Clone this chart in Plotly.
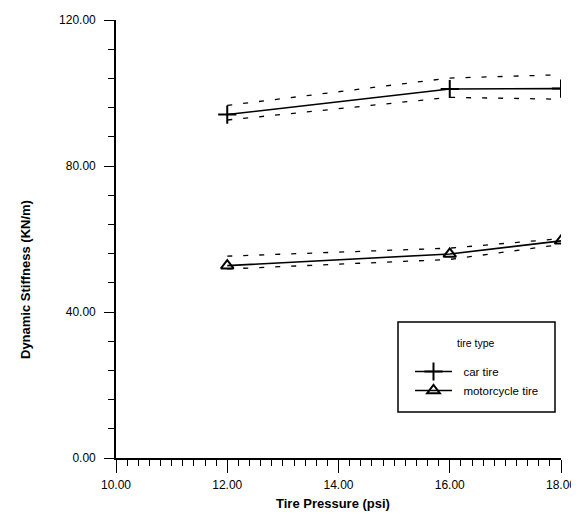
import plotly.graph_objects as go

# ---- data ----
pressure = [12.0, 16.0, 18.0]

car_stiffness = [94.1, 101.1, 101.2]
car_upper = [96.6, 104.1, 105.0]
car_lower = [92.6, 98.8, 98.3]

moto_stiffness = [52.7, 55.9, 59.5]
moto_upper = [55.3, 57.5, 60.1]
moto_lower = [51.8, 54.4, 58.5]

x_ticks = [10, 12, 14, 16, 18]
y_ticks = [0, 40, 80, 120]

FONT = "Liberation Sans, Arial, sans-serif"
OFF = 8  # default page body margin
WIN_W, WIN_H = 579, 519
W, H = WIN_W - OFF, WIN_H - 2 * OFF
# plot area in window pixels
PL, PR, PT, PB = 116, 561, 20, 458
L, T = PL - OFF, PT - OFF
R, B = OFF + W - PR, OFF + H - PB
PW, PH = PR - PL, PB - PT

def px_x(p):
    return (p - PL) / PW

def px_y(p):
    return (PB - p) / PH

fig = go.Figure()

dash_style = dict(color="black", width=1.3, dash="5px,11px")
for band in (car_upper, car_lower, moto_upper, moto_lower):
    fig.add_trace(go.Scatter(x=pressure, y=band, mode="lines", line=dash_style,
                             showlegend=False, hoverinfo="skip"))

fig.add_trace(go.Scatter(
    x=pressure, y=car_stiffness, mode="lines+markers",
    name="\u00a0\u00a0car tire",
    line=dict(color="black", width=1.6),
    marker=dict(symbol="cross-thin-open", size=13, color="black",
                line=dict(color="black", width=2)),
))
fig.add_trace(go.Scatter(
    x=pressure, y=moto_stiffness, mode="lines+markers",
    name="\u00a0\u00a0motorcycle tire",
    line=dict(color="black", width=1.6),
    marker=dict(symbol="triangle-up-open", size=11, color="black",
                line=dict(color="black", width=2)),
))

axis_common = dict(
    showline=True, linecolor="black", linewidth=1.6, showgrid=False,
    zeroline=False, ticks="outside", tickcolor="black", tickwidth=1.3,
    tickformat=".2f", tickfont=dict(family=FONT, size=12, color="black"),
)

fig.update_xaxes(range=[10, 18], tickvals=x_ticks, ticklen=13,
                 ticklabelstandoff=2,
                 minor=dict(dtick=0.2, ticklen=6, tickcolor="black",
                            tickwidth=1.2, ticks="outside", showgrid=False),
                 **axis_common)
fig.update_yaxes(range=[0, 120], tickvals=y_ticks, ticklen=10,
                 ticklabelstandoff=6,
                 minor=dict(dtick=8, ticklen=6, tickcolor="black",
                            tickwidth=1.2, ticks="outside", showgrid=False),
                 **axis_common)

fig.update_layout(
    width=W, height=H,
    margin=dict(l=L, r=R, t=T, b=B, autoexpand=False),
    paper_bgcolor="white", plot_bgcolor="white",
    font=dict(family=FONT, color="black"),
    showlegend=True,
    legend=dict(
        x=px_x(410), y=px_y(357), xanchor="left", yanchor="top",
        bgcolor="rgba(0,0,0,0)", borderwidth=0,
        font=dict(family=FONT, size=11.5, color="black"),
        itemwidth=37,
    ),
    shapes=[dict(type="rect", xref="paper", yref="paper",
                 x0=px_x(398), x1=px_x(555), y0=px_y(412), y1=px_y(322),
                 line=dict(color="black", width=1.5), fillcolor="rgba(0,0,0,0)")],
    annotations=[
        dict(text="tire type", xref="paper", yref="paper",
             x=px_x(476), y=px_y(343), showarrow=False,
             font=dict(family=FONT, size=10.5, color="black"),
             xanchor="center", yanchor="middle"),
        dict(text="<b>Dynamic Stiffness (KN/m)</b>", xref="paper", yref="paper",
             x=px_x(25), y=px_y(280), textangle=-90, showarrow=False,
             font=dict(family=FONT, size=13, color="black"),
             xanchor="center", yanchor="middle"),
        dict(text="<b>Tire Pressure (psi)</b>", xref="paper", yref="paper",
             x=px_x(333), y=px_y(503), showarrow=False,
             font=dict(family=FONT, size=13, color="black"),
             xanchor="center", yanchor="middle"),
    ],
)

fig.write_html("out.html")
